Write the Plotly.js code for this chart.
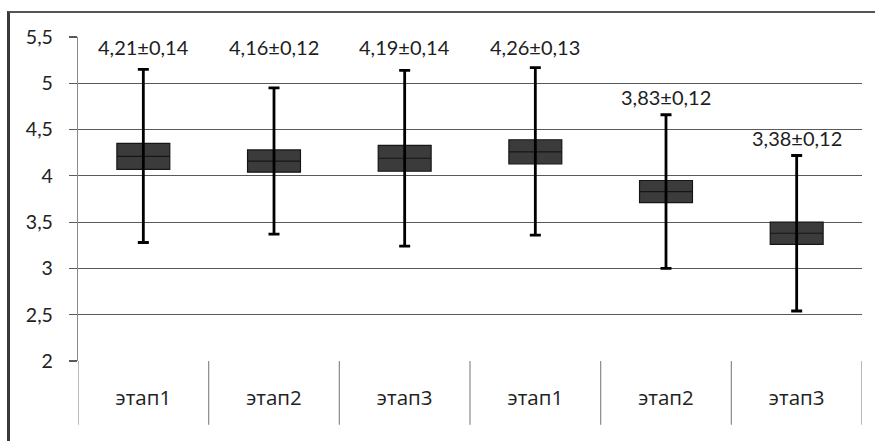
<!DOCTYPE html>
<html>
<head>
<meta charset="utf-8">
<script src="https://cdn.plot.ly/plotly-3.0.1.min.js"></script>
<style>
  html, body { margin: 0; padding: 0; background: #fff; }
  #chart { width: 875px; height: 441px; }
  #frame {
    position: absolute; left: 7px; top: 11px; width: 875px; height: 440px;
    border-left: 3px solid #3a3a3a; border-top: 2px solid #555;
    pointer-events: none;
  }
</style>
</head>
<body>
<div id="chart"></div>
<div id="frame"></div>
<script>
// Stage labels (two series of three stages each)
const categories = ['этап1', 'этап2', 'этап3', 'этап1', 'этап2', 'этап3'];
// Mean value per stage
const means = [4.21, 4.16, 4.19, 4.26, 3.83, 3.38];
// Standard error (box half-height)
const stdErr = [0.14, 0.12, 0.14, 0.13, 0.12, 0.12];
// Whisker ends
const whiskerLow = [3.28, 3.37, 3.24, 3.36, 3.00, 2.54];
const whiskerHigh = [5.15, 4.95, 5.14, 5.17, 4.66, 4.22];

const xs = categories.map((_, i) => i);
const fmt = v => v.toFixed(2).replace('.', ',');

const q1 = means.map((m, i) => m - stdErr[i]);
const q3 = means.map((m, i) => m + stdErr[i]);

const boxTrace = {
  type: 'box',
  x: xs,
  q1: q1,
  median: means,
  q3: q3,
  lowerfence: q1,
  upperfence: q3,
  width: 0.405,
  fillcolor: '#3b3b3b',
  line: { color: '#161616', width: 1.2 },
  hoverinfo: 'skip',
  showlegend: false
};

const whiskerTrace = {
  type: 'scatter',
  mode: 'markers',
  x: xs,
  y: means,
  marker: { size: 1, color: 'rgba(0,0,0,0)' },
  error_y: {
    type: 'data',
    symmetric: false,
    array: whiskerHigh.map((h, i) => h - means[i]),
    arrayminus: means.map((m, i) => m - whiskerLow[i]),
    color: '#000',
    thickness: 2.8,
    width: 5.5
  },
  hoverinfo: 'skip',
  showlegend: false
};

// Value labels above each whisker
const annotations = means.map((m, i) => ({
  x: i,
  y: whiskerHigh[i] > 4.8 ? 5.39 : whiskerHigh[i] + 0.19,
  xref: 'x', yref: 'y',
  text: fmt(m) + '±' + fmt(stdErr[i]),
  showarrow: false,
  yanchor: 'middle',
  font: { family: 'Lato, "Open Sans", sans-serif', size: 20, color: '#1e1e1e' }
}));

// Category cell dividers under the plot area
const shapes = [];
for (let i = 0; i <= categories.length; i++) {
  shapes.push({
    type: 'line', xref: 'x', yref: 'paper',
    x0: i - 0.5, x1: i - 0.5, y0: 0, y1: -0.197,
    line: { color: '#8a8a8a', width: 1.2 }
  });
}

const layout = {
  width: 875, height: 441,
  margin: { l: 78, r: 13, t: 37, b: 80 },
  paper_bgcolor: '#fff', plot_bgcolor: '#fff',
  showlegend: false,
  xaxis: {
    range: [-0.5, 5.5],
    tickvals: xs,
    ticktext: categories,
    showgrid: false,
    zeroline: false,
    showline: false,
    ticks: '',
    ticklabelstandoff: 22,
    tickfont: { family: '"Open Sans", "Noto Sans", sans-serif', size: 20.5, color: '#222' }
  },
  yaxis: {
    range: [2, 5.5],
    tickvals: [2, 2.5, 3, 3.5, 4, 4.5, 5, 5.5],
    ticktext: ['2', '2,5', '3', '3,5', '4', '4,5', '5', '5,5'],
    showgrid: true,
    gridcolor: '#5a5a5a',
    gridwidth: 1.2,
    zeroline: false,
    showline: true,
    linecolor: '#8a8a8a',
    linewidth: 1.2,
    ticks: 'outside',
    ticklen: 8,
    tickcolor: '#5a5a5a',
    tickwidth: 1.2,
    ticklabelstandoff: 12,
    tickfont: { family: 'Lato, "Open Sans", sans-serif', size: 19.5, color: '#222' }
  },
  annotations: annotations,
  shapes: shapes
};

Plotly.newPlot('chart', [boxTrace, whiskerTrace], layout, { staticPlot: true, displayModeBar: false });
</script>
</body>
</html>
